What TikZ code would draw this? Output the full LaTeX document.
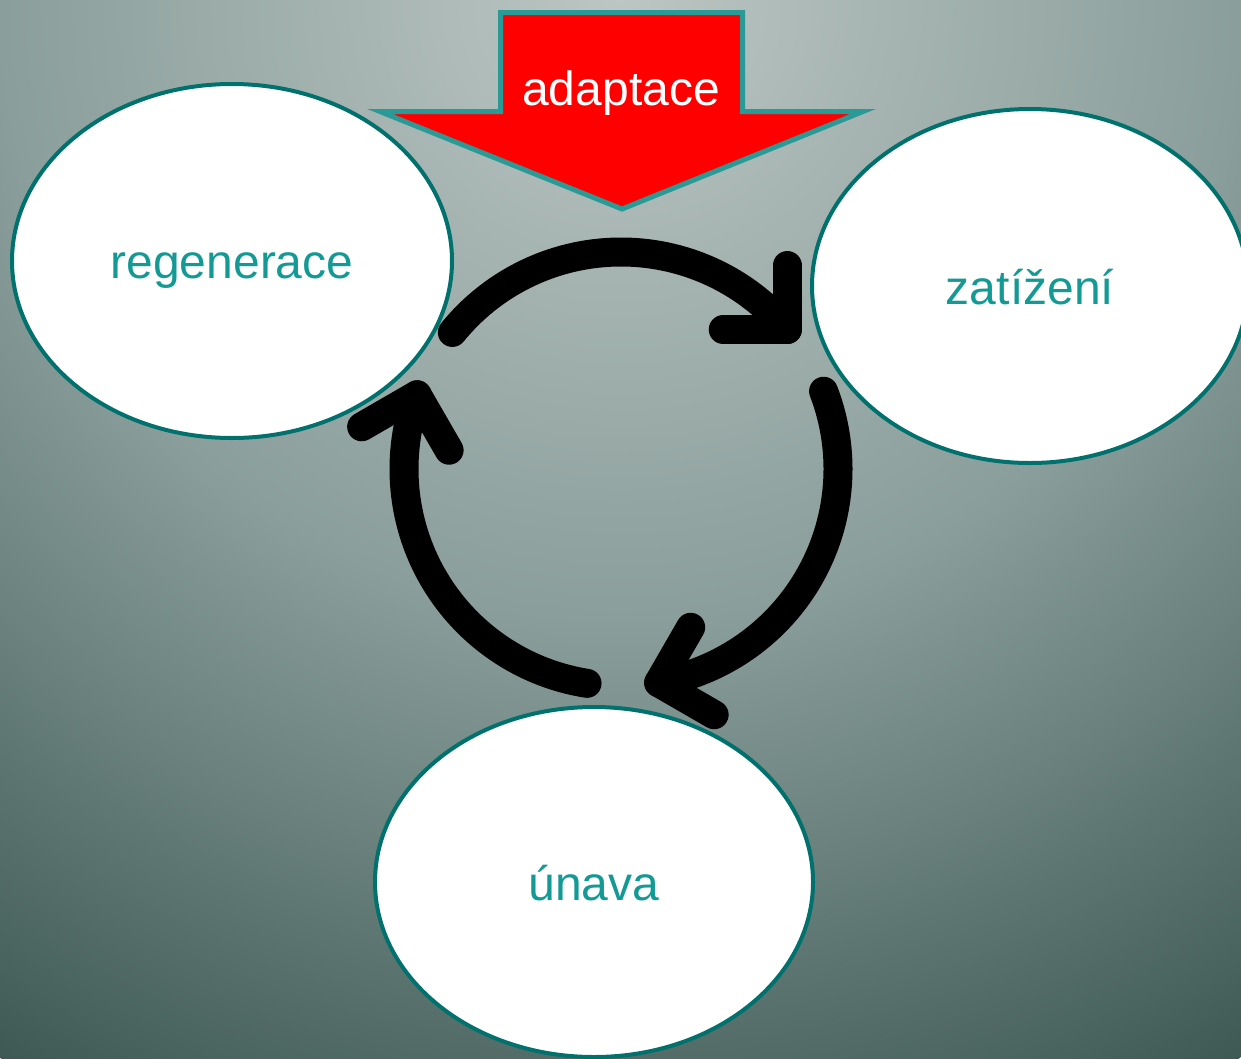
\documentclass[tikz,border=0pt]{standalone}
\usepackage{fontspec}
\setmainfont{Liberation Sans}
\usetikzlibrary{shapes.geometric,calc}
\definecolor{bgA}{HTML}{BCC6C3}
\definecolor{bgB}{HTML}{8A9E9B}
\definecolor{bgC}{HTML}{3E5954}
\definecolor{rim}{HTML}{00716D}
\definecolor{txt}{HTML}{139A95}
\definecolor{arrowrim}{HTML}{2A9A96}
\pgfdeclareradialshading{bgshade}{\pgfpoint{0bp}{0bp}}{color(0bp)=(bgA); color(12.6bp)=(bgB); color(25bp)=(bgC); color(50bp)=(bgC)}
\begin{document}
\begin{tikzpicture}[x=1pt,y=-1pt,
  bubble/.style={ellipse, draw=rim, line width=4pt, fill=white, inner sep=0pt},
  lab/.style={text=txt, font=\fontsize{48}{58}\selectfont, anchor=base, inner sep=0pt},
  cyc/.style={line width=29pt, line cap=round, line join=round, draw=black},
  bigarrow/.style={fill=red, draw=arrowrim, line width=5pt, line join=miter}]
\useasboundingbox (0,0) rectangle (1241,1058);
\begin{scope}
  \clip (0,0) rectangle (1241,1058);
  \shade[shading=bgshade] (620,0) circle (1226pt);
\end{scope}
% ellipses
\node[bubble, minimum width=440pt, minimum height=354pt] (reg) at (232,261) {};
\node[bubble, minimum width=436pt, minimum height=354pt] (zat) at (1030,286) {};
\node[bubble, minimum width=438pt, minimum height=350pt] (una) at (594,882) {};
\node[lab] (tReg) at (232,278) {regenerace};
\node[lab] (tZat) at (1030,304) {zatížení};
\node[lab] (tUna) at (594,900) {únava};
% cycle arrows
\coordinate (c) at (621,469);
\foreach \s/\e in {-141/-40, -21/80, 99/200} {
  \draw[cyc] ($(c)+(\s:217)$) arc[start angle=\s, end angle=\e, radius=217];
  \draw[cyc] ($(c)+(\e:217)+(\e-50:64)$) -- ($(c)+(\e:217)$) -- ($(c)+(\e:217)+(\e-140:64)$);
}
% big red arrow
\draw[bigarrow] (500.5,12.5) -- (742.5,12.5) -- (742.5,111.5) -- (863,111.5) -- (622,209) -- (380,111.5) -- (500.5,111.5) -- cycle;
\node[lab, text=white] (adapt) at (621,105) {adaptace};
\end{tikzpicture}
\end{document}
